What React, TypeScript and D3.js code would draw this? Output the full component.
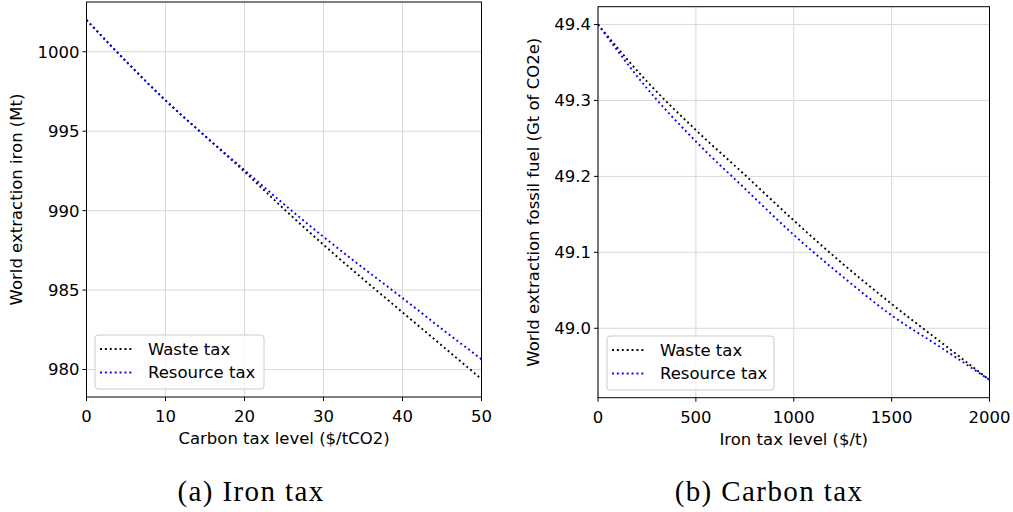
import React from "react";
import * as d3 from "d3";

// Panel (a): Iron extraction vs carbon tax
const carbonTax = [0, 5, 10, 15, 20, 25, 30, 35, 40, 45, 50];
const ironWaste = [1002.0, 999.4, 996.94, 994.7, 992.45, 990.1, 987.85, 985.7, 983.6, 981.5, 979.4];
const ironResource = [1002.0, 999.4, 996.94, 994.7, 992.55, 990.4, 988.35, 986.4, 984.5, 982.55, 980.65];
const ironXTicks = [0, 10, 20, 30, 40, 50];
const ironYTicks = [980, 985, 990, 995, 1000];

// Panel (b): Fossil fuel extraction vs iron tax
const ironTax = [0, 250, 500, 750, 1000, 1250, 1500, 1750, 2000];
const fossilWaste = [49.4, 49.325, 49.261, 49.202, 49.142, 49.085, 49.032, 48.982, 48.932];
const fossilResource = [49.4, 49.316, 49.246, 49.184, 49.123, 49.068, 49.017, 48.975, 48.932];
const fossilXTicks = [0, 500, 1000, 1500, 2000];
const fossilYTicks = [49.0, 49.1, 49.2, 49.3, 49.4];

const seriesNames = ["Waste tax", "Resource tax"];
const seriesColors = ["#000000", "#0000ff"];

const SANS = "'DejaVu Sans', sans-serif";
const FS = 16.5;

type PanelProps = {
  left: number; right: number; top: number; bottom: number;
  xs: number[]; ys: number[][]; xTicks: number[]; yTicks: number[];
  xDomain: [number, number]; yFmt: (v: number) => string;
  xLabel: string; yLabel: string; yLabelX: number;
  legend: { x: number; y: number; w: number; h: number };
  caption: string; captionX: number;
};

function Panel(p: PanelProps) {
  const all = p.ys.flat();
  const mn = d3.min(all)!, mx = d3.max(all)!;
  const m = (mx - mn) * 0.05;
  const x = d3.scaleLinear().domain(p.xDomain).range([p.left, p.right]);
  const y = d3.scaleLinear().domain([mn - m, mx + m]).range([p.bottom, p.top]);
  const line = d3.line<[number, number]>().x(d => x(d[0])).y(d => y(d[1])).curve(d3.curveMonotoneX);
  const cy = (p.top + p.bottom) / 2;
  const cx = (p.left + p.right) / 2;
  return (
    <g>
      <defs>
        <clipPath id={`clip-${p.left}`}>
          <rect x={p.left} y={p.top} width={p.right - p.left} height={p.bottom - p.top} />
        </clipPath>
      </defs>
      {p.xTicks.map(t => (
        <line key={`gx${t}`} x1={x(t)} x2={x(t)} y1={p.top} y2={p.bottom} stroke="#d9d9d9" strokeWidth={1} />
      ))}
      {p.yTicks.map(t => (
        <line key={`gy${t}`} x1={p.left} x2={p.right} y1={y(t)} y2={y(t)} stroke="#d9d9d9" strokeWidth={1} />
      ))}
      <g clipPath={`url(#clip-${p.left})`}>
        {p.ys.map((s, i) => (
          <path key={i} d={line(p.xs.map((v, j) => [v, s[j]] as [number, number])) || ""}
            fill="none" stroke={seriesColors[i]} strokeWidth={1.9} strokeDasharray="1.9 3" />
        ))}
      </g>
      <rect x={p.left} y={p.top} width={p.right - p.left} height={p.bottom - p.top} fill="none" stroke="#000" strokeWidth={1} />
      {p.xTicks.map(t => (
        <g key={`tx${t}`}>
          <line x1={x(t)} x2={x(t)} y1={p.bottom} y2={p.bottom + 4} stroke="#000" strokeWidth={1} />
          <text x={x(t)} y={p.bottom + 25} textAnchor="middle" fontFamily={SANS} fontSize={FS} fill="#000">{t}</text>
        </g>
      ))}
      {p.yTicks.map(t => (
        <g key={`ty${t}`}>
          <line x1={p.left - 4} x2={p.left} y1={y(t)} y2={y(t)} stroke="#000" strokeWidth={1} />
          <text x={p.left - 7} y={y(t)} dy="0.36em" textAnchor="end" fontFamily={SANS} fontSize={FS} fill="#000">{p.yFmt(t)}</text>
        </g>
      ))}
      <text x={cx} y={p.bottom + 47} textAnchor="middle" fontFamily={SANS} fontSize={FS} fill="#000">{p.xLabel}</text>
      <text transform={`translate(${p.yLabelX},${cy}) rotate(-90)`} textAnchor="middle" fontFamily={SANS} fontSize={FS} fill="#000">{p.yLabel}</text>
      <rect x={p.legend.x} y={p.legend.y} width={p.legend.w} height={p.legend.h} rx={3} fill="#fff" fillOpacity={0.8} stroke="#cccccc" strokeWidth={1} />
      {seriesNames.map((n, i) => {
        const ry = p.legend.y + 14 + i * 23.5;
        return (
          <g key={n}>
            <line x1={p.legend.x + 5} x2={p.legend.x + 38} y1={ry} y2={ry} stroke={seriesColors[i]} strokeWidth={1.9} strokeDasharray="1.9 3" />
            <text x={p.legend.x + 53} y={ry} dy="0.36em" fontFamily={SANS} fontSize={FS} fill="#000">{n}</text>
          </g>
        );
      })}
      <text x={p.captionX} y={501} textAnchor="middle" fontFamily="Liberation Serif, serif" fontSize={29} letterSpacing={1.4} fill="#000">{p.caption}</text>
    </g>
  );
}

export default function App() {
  return (
    <svg width={1013} height={512} style={{ position: "absolute", left: 0, top: 0, background: "#fff" }}>
      <rect width={1013} height={512} fill="#fff" />
      <Panel left={86.5} right={481.5} top={2} bottom={397}
        xs={carbonTax} ys={[ironWaste, ironResource]} xTicks={ironXTicks} yTicks={ironYTicks}
        xDomain={[0, 50]} yFmt={v => d3.format("d")(v)}
        xLabel="Carbon tax level ($/tCO2)" yLabel="World extraction iron (Mt)" yLabelX={22}
        legend={{ x: 95, y: 335, w: 169, h: 54 }} caption="(a) Iron tax" captionX={251} />
      <Panel left={598} right={989.5} top={6.7} bottom={397.7}
        xs={ironTax} ys={[fossilWaste, fossilResource]} xTicks={fossilXTicks} yTicks={fossilYTicks}
        xDomain={[0, 2000]} yFmt={v => d3.format(".1f")(v)}
        xLabel="Iron tax level ($/t)" yLabel="World extraction fossil fuel (Gt of CO2e)" yLabelX={539}
        legend={{ x: 607, y: 336, w: 167, h: 54 }} caption="(b) Carbon tax" captionX={769} />
    </svg>
  );
}
